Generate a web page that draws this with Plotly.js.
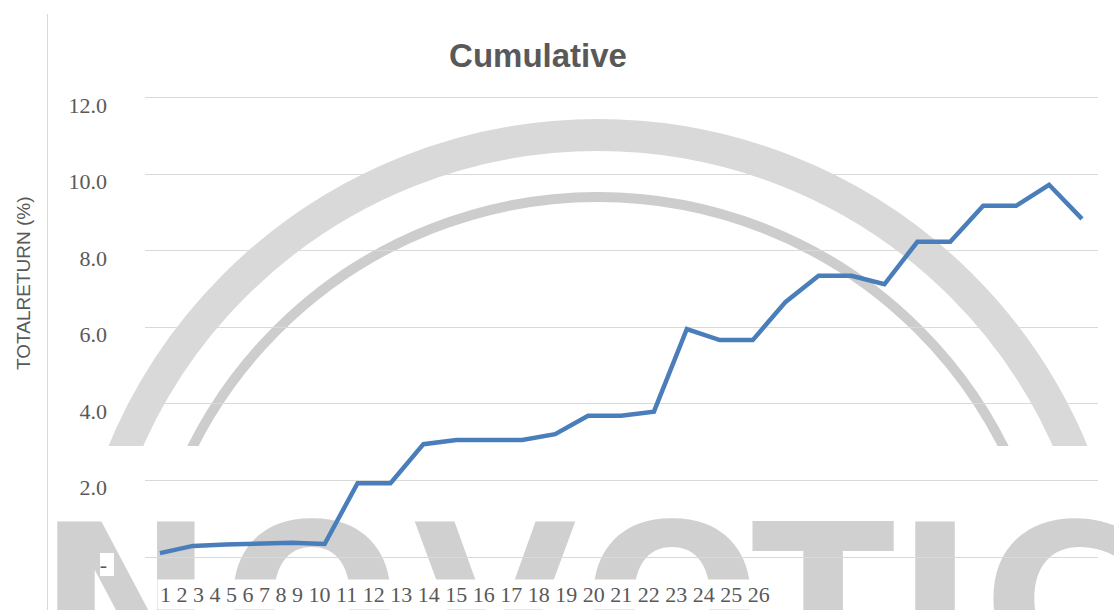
<!DOCTYPE html>
<html>
<head>
<meta charset="utf-8">
<script src="https://cdn.plot.ly/plotly-3.0.1.min.js"></script>
<style>html,body{margin:0;padding:0;background:#fff}#chart{width:1114px;height:610px}</style>
</head>
<body>
<div id="chart"></div>
<script>
// ---- data ----
const periods = [1,2,3,4,5,6,7,8,9,10,11,12,13,14,15,16,17,18,19,20,21,22,23,24,25,26,27,28,29];
const cumulativeReturn = [0.10,0.29,0.33,0.34,0.37,0.34,1.93,1.93,2.95,3.06,3.06,3.06,3.21,3.69,3.69,3.80,5.96,5.67,5.67,6.67,7.35,7.35,7.13,8.24,8.24,9.18,9.18,9.73,8.84];
const xLabels = ["1","2","3","4","5","6","7","8","9","10","11","12","13","14","15","16","17","18","19","20","21","22","23","24","25","26"];
const yTickVals = [0,2,4,6,8,10,12];
const yTickText = ["-","2.0","4.0","6.0","8.0","10.0","12.0"];
const chartTitle = "Cumulative";
const yTitle = "TOTALRETURN (%)";
const watermarkLetters = ["N","O","V","O","T","I","C"];

// ---- layout helpers (pixel -> paper) ----
const W = 1114, H = 610;
const M = {l:145, r:16, t:95, b:53};
const PW = W - M.l - M.r, PH = H - M.t - M.b;
const px = v => (v - M.l) / PW;
const py = v => (H - M.b - v) / PH;

const shapes = [];
// watermark arcs
function ring(cx, cy, r, w, color){
  shapes.push({type:'circle', xref:'paper', yref:'paper', layer:'below',
    x0:px(cx-r), x1:px(cx+r), y0:py(cy+r), y1:py(cy-r),
    line:{color:color, width:w}, fillcolor:'rgba(0,0,0,0)'});
}
ring(598, 649, 514, 32, '#d9d9d9');
ring(598, 651, 454, 10, '#cdcdcd');
// white strip that cuts the arcs
shapes.push({type:'rect', xref:'paper', yref:'paper', layer:'below',
  x0:px(0), x1:px(W), y0:py(H+5), y1:py(446), line:{width:0}, fillcolor:'#ffffff'});
// watermark letters
const letterCenters = [126, 312, 495, 672, 823, 935, 1060];
watermarkLetters.forEach((ch, i) => {
  const c = letterCenters[i];
  shapes.push({type:'rect', xref:'paper', yref:'paper', layer:'below',
    x0:px(c-100), x1:px(c+100), y0:py(720), y1:py(462),
    line:{width:0}, fillcolor:'rgba(0,0,0,0)',
    label:{text:ch, textposition:'top center',
      font:{family:'DejaVu Sans', size:210, color:'#d0d0d0', weight:'bold'}}});
});
// white box behind "-" tick label
shapes.push({type:'rect', xref:'paper', yref:'paper', layer:'below',
  x0:px(100), x1:px(114), y0:py(576), y1:py(553), line:{width:0}, fillcolor:'#ffffff'});
// left border line
shapes.push({type:'line', xref:'paper', yref:'paper', layer:'below',
  x0:px(47.5), x1:px(47.5), y0:py(H), y1:py(14), line:{color:'#d9d9d9', width:1}});

const data = [{
  x: periods, y: cumulativeReturn, type:'scatter', mode:'lines',
  line:{color:'#4a7ebb', width:4.5}, hoverinfo:'skip'
}];

const layout = {
  width:W, height:H,
  margin:M,
  paper_bgcolor:'#ffffff', plot_bgcolor:'rgba(0,0,0,0)',
  showlegend:false,
  title:{text:chartTitle, x:538/W, xref:'container', xanchor:'center', y:1-55/H, yref:'container', yanchor:'middle',
    font:{family:'Liberation Sans, Arial', size:33, color:'#595959', weight:'bold'}},
  xaxis:{range:[0.545, 29.486], showgrid:false, zeroline:false, showticklabels:false, ticks:'', showline:false, fixedrange:true},
  yaxis:{range:[0,12.078], tickvals:yTickVals, ticktext:yTickText, showgrid:true, gridcolor:'#d9d9d9', gridwidth:1,
    zeroline:true, zerolinecolor:'#d9d9d9', zerolinewidth:1, showline:false, ticks:'',
    ticklabelstandoff:37, ticklabelshift:7,
    tickfont:{family:'Liberation Serif, Times New Roman', size:22, color:'#595959'}, fixedrange:true},
  shapes: shapes,
  annotations:[
    {text:xLabels.join(' '), xref:'paper', yref:'paper', x:px(157), y:py(594), xanchor:'left', yanchor:'middle',
      showarrow:false, bgcolor:'#ffffff', borderpad:2,
      font:{family:'Liberation Serif, Times New Roman', size:22, color:'#595959'}},
    {text:yTitle, xref:'paper', yref:'paper', x:px(23), y:py(284), xanchor:'center', yanchor:'middle',
      textangle:-90, showarrow:false,
      font:{family:'Liberation Sans, Arial', size:19, color:'#595959'}}
  ]
};
Plotly.newPlot('chart', data, layout, {displayModeBar:false, staticPlot:true});
</script>
</body>
</html>
